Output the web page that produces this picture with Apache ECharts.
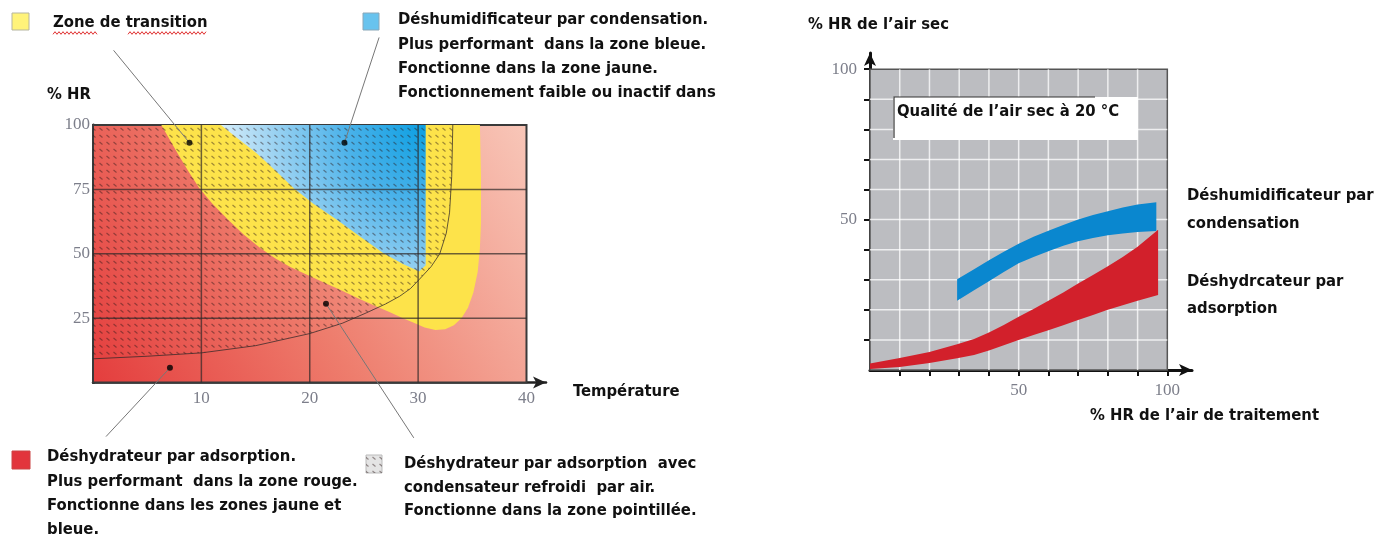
<!DOCTYPE html>
<html>
<head>
<meta charset="utf-8">
<script src="https://cdn.jsdelivr.net/npm/echarts@6/dist/echarts.min.js"></script>
<style>
  html, body { margin: 0; padding: 0; background: #fff; }
  #main { width: 1390px; height: 535px; }
</style>
</head>
<body>
<div id="main"></div>
<script>
// ---- left chart : temperature (x) vs % HR (y) ----
var tempLabels = [10, 20, 30, 40];
var hrLabels = [25, 50, 75, 100];
var gridTemp = [10, 20, 30];
var gridHr = [25, 50, 75];

var plotFrame = [[0, 0], [40, 0], [40, 100], [0, 100]];
// yellow transition zone, outer edge (top -> bottom -> up the right side)
var yellowEdge = [[6.3, 100], [7.8, 89], [8.8, 82], [9.8, 75.5], [11, 69.5], [12.4, 63.5], [13.9, 57.5],
  [15.4, 52.3], [16.8, 48.3], [18.2, 44.9], [19.7, 41.9], [21.2, 39], [22.8, 36], [24.3, 33], [25.9, 30],
  [27.4, 27.3], [28.6, 25], [29.6, 23.2], [30.6, 21.4], [31.6, 20.4], [32.5, 20.7], [33.3, 22.2], [34, 25],
  [34.6, 29], [35.1, 35], [35.5, 43], [35.7, 52], [35.8, 62], [35.8, 80], [35.7, 100]];
// blue zone (condensation)
var blueEdge = [[11.8, 100], [13.3, 95], [15.1, 89], [16.9, 82], [18.5, 75.5], [20.3, 69.5], [22.5, 63.2],
  [24.7, 56.5], [26.8, 50.2], [28.6, 46], [30.1, 43.1], [30.7, 45.5], [30.7, 100]];
// dotted zone border (air-cooled condenser)
var dottedEdge = [[0, 9.2], [5, 10.2], [10, 11.5], [15, 14.3], [20, 19], [23, 23], [25.2, 27], [27, 30.5],
  [28.3, 33.5], [29.3, 36.5], [30.1, 40], [31.2, 45], [32, 50], [32.6, 58], [32.9, 66], [33.1, 80], [33.2, 100]];
var dotPoints = [[8.9, 93.1], [23.2, 93.1], [21.5, 30.6], [7.1, 5.7]];
// leader lines from each dot out to its caption
var leaders = [[8.9, 93.1, 1.9, 129], [23.2, 93.1, 26.4, 134], [7.1, 5.7, 1.2, -21], [21.5, 30.6, 29.6, -21.5]];

// ---- right chart : % HR air de traitement (x) vs % HR air sec (y) ----
var inLabels = [50, 100];
var outLabels = [50, 100];
var ticks10 = [10, 20, 30, 40, 50, 60, 70, 80, 90, 100];
var grid10 = [10, 20, 30, 40, 50, 60, 70, 80, 90];
var rightFrame = [[0, 0], [100, 0], [100, 100], [0, 100]];
var blueTop = [[29.3, 30.2], [35, 33.5], [40, 36.5], [45, 39.3], [50, 42], [55, 44.3], [60, 46.3], [65, 48.2],
  [70, 50], [75, 51.5], [80, 52.8], [85, 54], [90, 55], [96.3, 55.8]];
var blueBottom = [[29.3, 23], [35, 26.5], [40, 29.5], [45, 32.6], [50, 35.5], [55, 37.6], [60, 39.5], [65, 41.3],
  [70, 42.8], [75, 43.9], [80, 44.8], [85, 45.4], [90, 45.9], [96.3, 46.2]];
var redTop = [[0, 2.2], [10, 4], [20, 6], [29.3, 8.6], [35, 10.3], [40, 12.5], [45, 15], [50, 17.7], [55, 20.3],
  [60, 23], [65, 25.8], [70, 28.8], [75, 31.6], [80, 34.5], [85, 37.6], [90, 41], [96.9, 46.6]];
var redBottom = [[0, 0.3], [10, 1], [20, 2.3], [29.3, 3.9], [35, 5], [40, 6.5], [45, 8.2], [50, 10], [55, 11.6],
  [60, 13.2], [65, 14.9], [70, 16.6], [75, 18.3], [80, 20], [85, 21.5], [90, 23], [96.9, 24.9]];

var FONT = "'DejaVu Sans Condensed', 'DejaVu Sans', sans-serif";
var SERIF = "'Liberation Serif', 'DejaVu Serif', serif";

function makeDots(bg) {
  var c = document.createElement('canvas');
  c.width = 7; c.height = 7;
  var ctx = c.getContext('2d');
  if (bg) { ctx.fillStyle = bg; ctx.fillRect(0, 0, 7, 7); }
  ctx.strokeStyle = 'rgba(45,25,25,0.45)';
  ctx.lineWidth = 1.2;
  ctx.beginPath(); ctx.moveTo(1.5, 2); ctx.lineTo(4.5, 4.5); ctx.stroke();
  return c;
}
var dots = makeDots(null);

function polySeries(gi, pts, style, z) {
  return {
    type: 'custom', xAxisIndex: gi, yAxisIndex: gi, z: z, silent: true, clip: false,
    data: pts,
    renderItem: function (params, api) {
      if (params.dataIndex !== 0) return null;
      return { type: 'polygon', shape: { points: pts.map(function (p) { return api.coord(p); }) }, style: style };
    }
  };
}
function lineSeries(gi, pts, style, z) {
  return {
    type: 'custom', xAxisIndex: gi, yAxisIndex: gi, z: z, silent: true, clip: false,
    data: pts,
    renderItem: function (params, api) {
      if (params.dataIndex !== 0) return null;
      return { type: 'polyline', shape: { points: pts.map(function (p) { return api.coord(p); }) }, style: style };
    }
  };
}
// straight grid lines drawn over the zones
function gridSeries(gi, xs, ys, yMax, xMax, color, z) {
  var segs = xs.map(function (v) { return [v, 0, v, yMax]; })
    .concat(ys.map(function (v) { return [0, v, xMax, v]; }));
  return {
    type: 'custom', xAxisIndex: gi, yAxisIndex: gi, z: z, silent: true, clip: false,
    data: segs,
    renderItem: function (params, api) {
      var a = api.coord([api.value(0), api.value(1)]);
      var b = api.coord([api.value(2), api.value(3)]);
      return { type: 'line', shape: { x1: a[0], y1: a[1], x2: b[0], y2: b[1] }, style: { stroke: color, lineWidth: 1.5 } };
    }
  };
}

var chart = echarts.init(document.getElementById('main'));

function squiggle(x0, x1, y) {
  var pts = [];
  for (var x = x0, i = 0; x <= x1; x += 2, i++) pts.push([x, y + (i % 2 ? -1.3 : 1.3)]);
  return { type: 'polyline', shape: { points: pts }, style: { stroke: '#e03030', lineWidth: 1, fill: null } };
}
function txt(x, y, s, extra) {
  var st = { text: s, x: x, y: y, font: 'bold 16.5px ' + FONT, fill: '#111', verticalAlign: 'middle' };
  for (var k in extra) st[k] = extra[k];
  return { type: 'text', style: st, z: 100 };
}

var leftLabelStyle = { color: '#7c7e8a', fontFamily: SERIF, fontSize: 17 };

chart.setOption({
  backgroundColor: '#fff',
  animation: false,
  grid: [
    { left: 93, top: 125, width: 453, height: 257.5 },
    { left: 870, top: 53, width: 322, height: 317 }
  ],
  xAxis: [
    {
      gridIndex: 0, type: 'value', min: 0, max: 41.8, interval: 10,
      axisLine: { show: true, lineStyle: { color: '#222', width: 2.5 }, symbol: ['none', 'arrow'], symbolSize: [9, 13] },
      axisTick: { show: false }, splitLine: { show: false },
      axisLabel: Object.assign({ customValues: tempLabels, margin: 8 }, leftLabelStyle)
    },
    {
      gridIndex: 1, type: 'value', min: 0, max: 108.3, interval: 10,
      axisLine: { show: true, lineStyle: { color: '#111', width: 3 }, symbol: ['none', 'arrow'], symbolSize: [9, 13] },
      axisTick: { show: true, customValues: ticks10, length: 6, lineStyle: { color: '#111', width: 2 } },
      splitLine: { show: false },
      axisLabel: Object.assign({ customValues: inLabels, margin: 12 }, leftLabelStyle)
    }
  ],
  yAxis: [
    {
      gridIndex: 0, type: 'value', min: 0, max: 100, interval: 25,
      axisLine: { show: true, lineStyle: { color: '#222', width: 3 } },
      axisTick: { show: false }, splitLine: { show: false },
      axisLabel: Object.assign({ customValues: hrLabels, margin: 3 }, leftLabelStyle)
    },
    {
      gridIndex: 1, type: 'value', min: 0, max: 105.4, interval: 10,
      axisLine: { show: true, lineStyle: { color: '#111', width: 3 }, symbol: ['none', 'arrow'], symbolSize: [9, 13] },
      axisTick: { show: true, customValues: ticks10, length: 6, lineStyle: { color: '#111', width: 2 } },
      splitLine: { show: false },
      axisLabel: Object.assign({ customValues: outLabels, margin: 13 }, leftLabelStyle)
    }
  ],
  series: [
    polySeries(0, plotFrame, {
      fill: new echarts.graphic.LinearGradient(0, 1, 1, 0, [
        { offset: 0, color: '#e43d3d' }, { offset: 0.45, color: '#ee7d6d' }, { offset: 1, color: '#f8c7b9' }]),
      stroke: '#3a3a3a', lineWidth: 2
    }, 1),
    polySeries(0, yellowEdge, { fill: '#fde34a' }, 2),
    polySeries(0, blueEdge, {
      fill: new echarts.graphic.RadialGradient(1, 0, 1.4, [
        { offset: 0, color: '#0c9fe2' }, { offset: 0.4, color: '#4db3ea' }, { offset: 0.75, color: '#9dd3f2' }, { offset: 1, color: '#d5edfa' }])
    }, 3),
    polySeries(0, dottedEdge.concat([[0, 100]]), { fill: { image: dots, repeat: 'repeat' } }, 4),
    lineSeries(0, dottedEdge, { stroke: 'rgba(50,40,40,0.75)', lineWidth: 1, fill: null }, 5),
    gridSeries(0, gridTemp, gridHr, 100, 40, 'rgba(45,40,40,0.7)', 6),
    {
      type: 'custom', xAxisIndex: 0, yAxisIndex: 0, z: 7, silent: true, clip: false,
      data: leaders,
      renderItem: function (params, api) {
        var a = api.coord([api.value(0), api.value(1)]);
        var b = api.coord([api.value(2), api.value(3)]);
        return { type: 'line', shape: { x1: a[0], y1: a[1], x2: b[0], y2: b[1] }, style: { stroke: '#777', lineWidth: 1 } };
      }
    },
    {
      type: 'scatter', xAxisIndex: 0, yAxisIndex: 0, z: 8, silent: true,
      symbolSize: 6, itemStyle: { color: '#000' }, data: dotPoints
    },
    // right chart
    polySeries(1, rightFrame, { fill: '#bcbdc1', stroke: '#555', lineWidth: 1.5 }, 1),
    gridSeries(1, grid10, grid10, 100, 100, 'rgba(255,255,255,0.75)', 2),
    polySeries(1, blueTop.concat(blueBottom.slice().reverse()), { fill: '#0a87cf' }, 3),
    polySeries(1, redTop.concat(redBottom.slice().reverse()), { fill: '#d2202b' }, 4)
  ],
  graphic: [
    // legend squares
    { type: 'rect', shape: { x: 12, y: 13, width: 17, height: 17 }, style: { fill: '#fff37a', stroke: '#b5b5a0', lineWidth: 1 }, z: 100 },
    { type: 'rect', shape: { x: 363, y: 13, width: 16, height: 17 }, style: { fill: '#68c3ee', stroke: '#8aa7b8', lineWidth: 1 }, z: 100 },
    { type: 'rect', shape: { x: 12, y: 451, width: 18, height: 18 }, style: { fill: '#e2353c', stroke: '#c44', lineWidth: 1 }, z: 100 },
    { type: 'rect', shape: { x: 366, y: 455, width: 16, height: 18 }, style: { fill: '#e4e4e4', stroke: '#bbb', lineWidth: 1 }, z: 100 },
    { type: 'rect', shape: { x: 366, y: 455, width: 16, height: 18 }, style: { fill: { image: makeDots(null), repeat: 'repeat' } }, z: 101 },
    txt(53, 23, 'Zone de transition'),
    squiggle(53, 97, 33), squiggle(128, 207, 33),
    txt(398, 8, 'Déshumidificateur par condensation.\nPlus performant  dans la zone bleue.\nFonctionne dans la zone jaune.\nFonctionnement faible ou inactif dans',
      { verticalAlign: 'top', lineHeight: 24.3 }),
    txt(47, 95, '% HR'),
    txt(573, 392, 'Température'),
    txt(47, 445, 'Déshydrateur par adsorption.\nPlus performant  dans la zone rouge.\nFonctionne dans les zones jaune et\nbleue.',
      { verticalAlign: 'top', lineHeight: 24.3 }),
    txt(404, 452, 'Déshydrateur par adsorption  avec\ncondensateur refroidi  par air.\nFonctionne dans la zone pointillée.',
      { verticalAlign: 'top', lineHeight: 23.6 }),
    // right chart texts
    txt(808, 25, '% HR de l’air sec'),
    { type: 'rect', shape: { x: 893, y: 97, width: 245, height: 43 }, style: { fill: '#fff' }, z: 99 },
    { type: 'polyline', shape: { points: [[894, 138], [894, 97], [1095, 97]] }, style: { stroke: '#333', lineWidth: 1.2, fill: null }, z: 100 },
    txt(897, 112, 'Qualité de l’air sec à 20 °C'),
    txt(1187, 182, 'Déshumidificateur par\ncondensation', { verticalAlign: 'top', lineHeight: 28 }),
    txt(1187, 268.5, 'Déshydrcateur par\nadsorption', { verticalAlign: 'top', lineHeight: 27 }),
    txt(1090, 416, '% HR de l’air de traitement')
  ]
});
</script>
</body>
</html>
